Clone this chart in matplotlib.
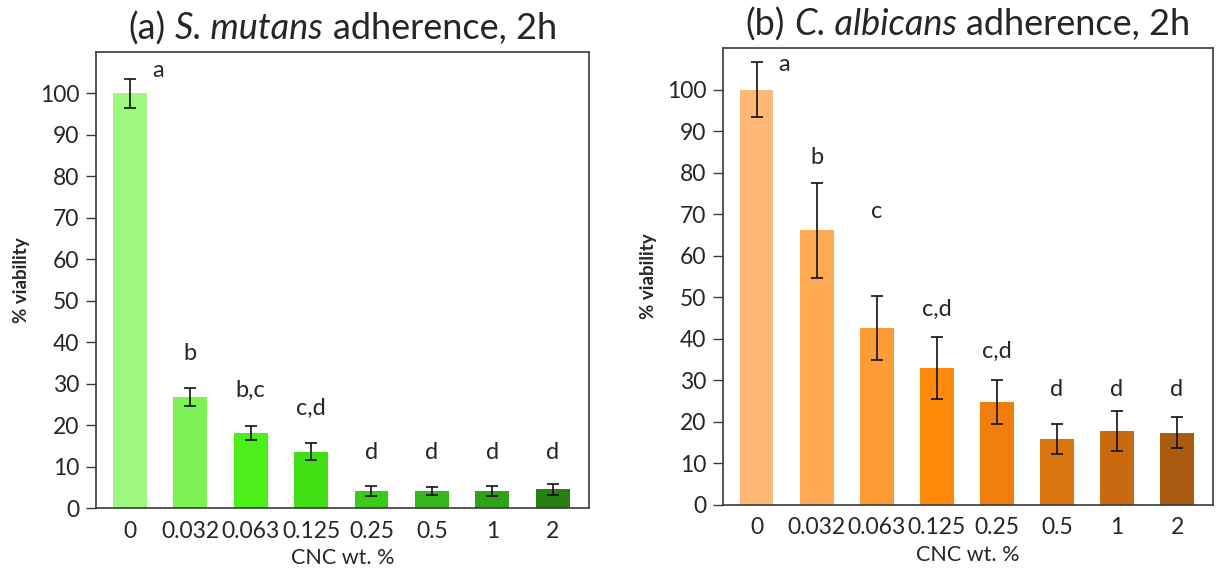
import numpy as np
import matplotlib
matplotlib.use('Agg')
import matplotlib.pyplot as plt
from matplotlib.offsetbox import TextArea, HPacker, AnchoredOffsetbox

plt.rcParams['font.family'] = ['Lato', 'DejaVu Sans']

conc = ['0', '0.032', '0.063', '0.125', '0.25', '0.5', '1', '2']

# (a) S. mutans
sm_mean = [100, 26.8, 18.1, 13.6, 4.1, 4.1, 4.1, 4.5]
sm_err = [3.5, 2.1, 1.7, 2.0, 1.3, 0.9, 1.3, 1.4]
sm_letters = ['a', 'b', 'b,c', 'c,d', 'd', 'd', 'd', 'd']
sm_letter_y = [105.5, 37.3, 28.4, 24.0, 13.4, 13.4, 13.4, 13.4]
sm_colors = ['#9ef87f', '#7ef255', '#4cef19', '#43df15', '#3ccb1b', '#37b61c', '#31a11b', '#287f14']

# (b) C. albicans
ca_mean = [100, 66.1, 42.6, 33.0, 24.7, 15.9, 17.9, 17.4]
ca_err = [6.6, 11.5, 7.7, 7.4, 5.3, 3.6, 4.8, 3.7]
ca_letters = ['a', 'b', 'c', 'c,d', 'c,d', 'd', 'd', 'd']
ca_letter_y = [106, 83.6, 70.6, 47.0, 37.0, 27.9, 27.9, 27.9]
ca_colors = ['#ffb878', '#fdaa52', '#fd9b34', '#ff8a0c', '#ef7e0d', '#db750f', '#c96a10', '#a95b10']

text_c = '#262626'
spine_c = '#3a3a3a'

fig = plt.figure(figsize=(12.16, 5.71), dpi=100)
ax1 = fig.add_axes([0.0789, 0.1103, 0.4054, 0.7986])
ax2 = fig.add_axes([0.5946, 0.1156, 0.4030, 0.8003])

panels = [
    (ax1, sm_mean, sm_err, sm_colors, sm_letters, sm_letter_y,
     ['(a)', 'S. mutans', 'adherence, 2h']),
    (ax2, ca_mean, ca_err, ca_colors, ca_letters, ca_letter_y,
     ['(b)', 'C. albicans', 'adherence, 2h']),
]

x = np.arange(len(conc))
for ax, mean, err, cols, letters, ly, title in panels:
    ax.bar(x, mean, width=0.56, color=cols, yerr=err,
           error_kw=dict(ecolor='#111111', elinewidth=1.2, capsize=4, capthick=1.2))
    for i, (lab, yy) in enumerate(zip(letters, ly)):
        dx = 0.46 if i == 0 else 0
        ax.text(i + dx, yy, lab, ha='center', va='center', fontsize=17, color=text_c)
    ax.set_xlim(-0.56, 7.6)
    ax.set_ylim(0, 110)
    ax.set_yticks(range(0, 101, 10))
    ax.set_xticks(x)
    ax.set_xticklabels(conc)
    ax.tick_params(axis='x', length=0, pad=9, labelsize=16.5, labelcolor=text_c)
    ax.tick_params(axis='y', length=7, width=1, pad=5, labelsize=16.5,
                   labelcolor=text_c, color=spine_c)
    for s in ax.spines.values():
        s.set_color(spine_c)
        s.set_linewidth(1.2)
    ax.set_ylabel('% viability', fontsize=13.5, fontweight='bold', color=text_c, labelpad=7)
    ax.set_xlabel('CNC wt. %', fontsize=15.5, color=text_c, labelpad=5)

    # title with italic species name
    tp = dict(fontsize=26, color=text_c)
    parts = [TextArea(title[0], textprops=tp),
             TextArea(title[1], textprops=dict(tp, style='italic')),
             TextArea(title[2], textprops=tp)]
    pack = HPacker(children=parts, align='baseline', pad=0, sep=7)
    box = AnchoredOffsetbox(loc='lower center', child=pack, pad=0, borderpad=0,
                            frameon=False, bbox_to_anchor=(0.5, 1.015),
                            bbox_transform=ax.transAxes)
    ax.add_artist(box)

fig.savefig('out.png', dpi=100)
